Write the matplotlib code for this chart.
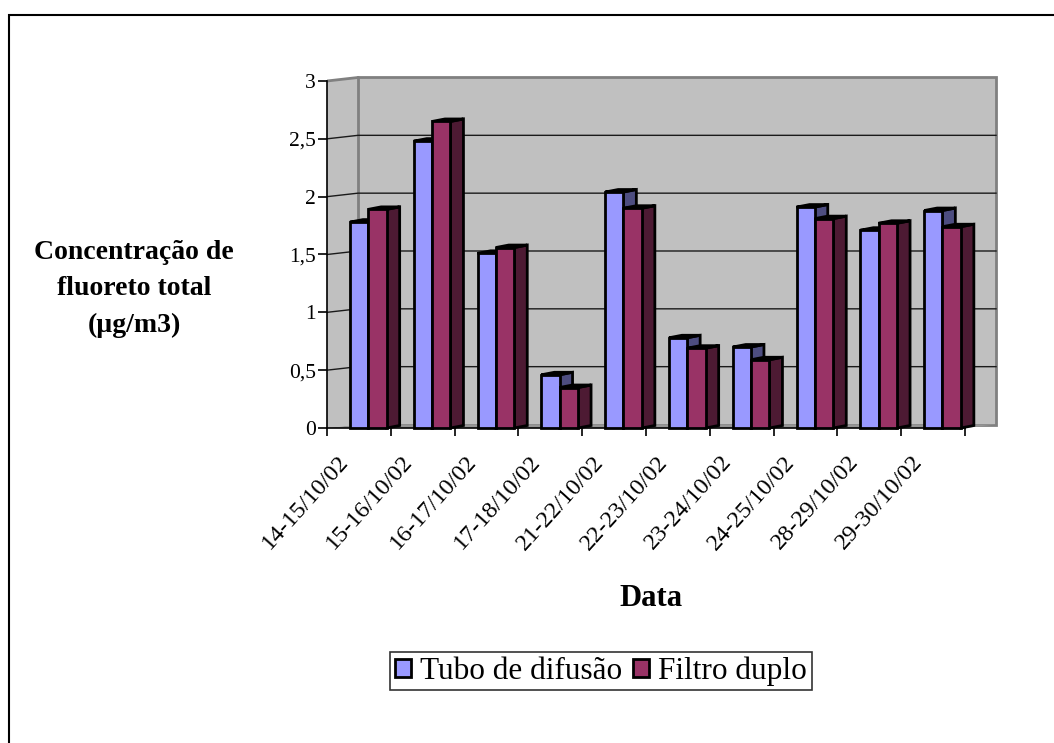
import matplotlib
matplotlib.use('Agg')
import matplotlib.pyplot as plt
from matplotlib.patches import Polygon, Rectangle, Patch
from matplotlib.transforms import ScaledTranslation

plt.rcParams['font.family'] = ['Liberation Serif', 'DejaVu Serif']

###############################################################################
# Data
categories = ['14-15/10/02', '15-16/10/02', '16-17/10/02', '17-18/10/02',
              '21-22/10/02', '22-23/10/02', '23-24/10/02', '24-25/10/02',
              '28-29/10/02', '29-30/10/02']
tubo = [1.78, 2.48, 1.51, 0.46, 2.04, 0.78, 0.70, 1.91, 1.71, 1.88]
filtro = [1.89, 2.65, 1.56, 0.35, 1.90, 0.69, 0.59, 1.81, 1.77, 1.74]
series_names = ['Tubo de difusão', 'Filtro duplo']
yticks = [0, 0.5, 1, 1.5, 2, 2.5, 3]

front_colors = ['#9999FF', '#993366']
side_colors = ['#4D4D80', '#4D1A33']

###############################################################################
# Figure and axes (pixel layout of the original)
W, H = 1054, 743
fig = plt.figure(figsize=(W / 100, H / 100), dpi=100)
px_l, px_r, px_t, px_b = 327, 1000, 75, 430
ax = fig.add_axes([px_l / W, 1 - px_b / H, (px_r - px_l) / W, (px_b - px_t) / H])

ncat = len(categories)
ux = 63.8    # pixels per category
uy = 115.67  # pixels per unit value
ax.set_xlim(0, (px_r - px_l) / ux)
ax.set_ylim(-(px_b - 428) / uy, (428 - px_t) / uy)

# depth offsets (data units)
DX, DY = 31 / ux, 3.5 / uy      # walls
bdx, bdy = 13 / ux, 2.5 / uy    # bars
ymax = yticks[-1]

wall_c = '#C0C0C0'
# side wall
ax.add_patch(Polygon([(0, 0), (DX, DY), (DX, ymax + DY), (0, ymax)],
                     closed=True, fc=wall_c, ec='none', zorder=0))
# back wall
ax.add_patch(Polygon([(DX, DY), (ncat + DX, DY), (ncat + DX, ymax + DY), (DX, ymax + DY)],
                     closed=True, fc=wall_c, ec='#808080', lw=2, zorder=0))
ax.plot([0, DX], [ymax, ymax + DY], color='#808080', lw=2, zorder=0.5)
# floor
ax.add_patch(Polygon([(0, 0), (ncat, 0), (ncat + DX, DY), (DX, DY)],
                     closed=True, fc='#969696', ec='none', zorder=0.5))
# gridlines
for v in yticks[1:-1]:
    ax.plot([0, DX, ncat + DX], [v, v + DY, v + DY], color='#1a1a1a', lw=1, zorder=0.6)

###############################################################################
# 3D-looking bars
offsets = [0.36, 0.645]
widths = [0.285, 0.29]
for i in range(ncat):
    for s, vals in enumerate([tubo, filtro]):
        x0 = i + offsets[s]
        x1 = x0 + widths[s]
        v = vals[i]
        z = 2 + i * 0.1 + s * 0.01
        ax.add_patch(Polygon([(x1, 0), (x1 + bdx, bdy), (x1 + bdx, v + bdy), (x1, v)],
                             closed=True, fc=side_colors[s], ec='black', lw=2, zorder=z))
        ax.add_patch(Polygon([(x0, v), (x1, v), (x1 + bdx, v + bdy), (x0 + bdx, v + bdy)],
                             closed=True, fc=side_colors[s], ec='black', lw=2, zorder=z))
        ax.bar(x0, v, width=widths[s], align='edge', color=front_colors[s],
               edgecolor='black', lw=2, zorder=z + 0.001)

###############################################################################
# Axes, ticks, labels
for side in ['top', 'right']:
    ax.spines[side].set_visible(False)
ax.spines['left'].set_position(('data', 0))
ax.spines['bottom'].set_position(('data', 0))
ax.spines['left'].set_bounds(0, ymax)
ax.spines['bottom'].set_bounds(0, ncat)
for side in ['left', 'bottom']:
    ax.spines[side].set_zorder(1)
    ax.spines[side].set_linewidth(1.2)
ax.patch.set_visible(False)

ax.set_yticks(yticks)
ax.set_yticklabels([('%g' % t).replace('.', ',') for t in yticks], fontsize=15.5)
ax.tick_params(axis='y', length=6.5, width=1.2, pad=1.5)

ax.set_xticks(range(ncat + 1))
ax.set_xticklabels([])
ax.tick_params(axis='x', which='major', length=5.5, width=1.2)
ax.set_xticks([i + 0.5 for i in range(ncat)], minor=True)
ax.set_xticklabels(categories, minor=True, rotation=48, ha='right', fontsize=17.5)
ax.tick_params(axis='x', which='minor', length=0, pad=17)
for lab in ax.get_xticklabels(minor=True):
    lab.set_transform(lab.get_transform() + ScaledTranslation(-0.06, 0, fig.dpi_scale_trans))

fig.text(134 / W, 1 - 289 / H, 'Concentração de\nfluoreto total\n(µg/m3)',
         ha='center', va='center', multialignment='center', fontsize=20,
         fontweight='bold', linespacing=1.6)
fig.text(651 / W, 1 - 598 / H, 'Data', ha='center', va='center',
         fontsize=22, fontweight='bold')

handles = [Patch(fc=c, ec='black', lw=2) for c in front_colors]
leg = fig.legend(handles, series_names, loc='center', bbox_to_anchor=(601 / W, 1 - 671 / H),
                 ncol=2, fontsize=22.5, frameon=True, fancybox=False, edgecolor='black',
                 handlelength=0.5, handleheight=0.5, handletextpad=0.3, columnspacing=0.35,
                 borderpad=0.15, borderaxespad=0)
leg.get_frame().set_linewidth(1.2)

# outer chart-area border
fig.add_artist(Rectangle((9 / W, -0.1), 1.2, 1.1 - 15 / H, transform=fig.transFigure,
                         fill=False, ec='black', lw=1.5))

fig.savefig('out.png', dpi=100)
